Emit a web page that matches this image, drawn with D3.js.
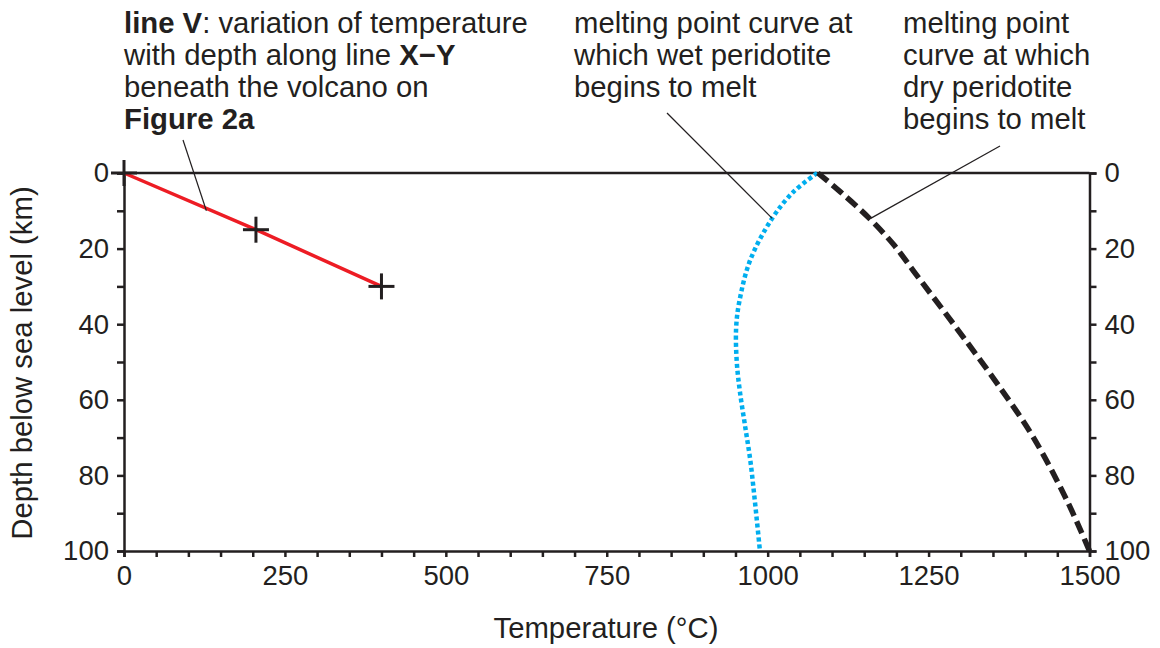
<!DOCTYPE html>
<html><head><meta charset="utf-8">
<script src="https://cdn.jsdelivr.net/npm/d3@7/dist/d3.min.js"></script>
<style>
body{margin:0;background:#fff;}
text{font-family:"Liberation Sans",Arial,Helvetica,sans-serif;fill:#231f20;}
</style></head>
<body><svg id="c" width="1160" height="648"></svg>
<script>
// Line V: temperature vs depth beneath the volcano
const lineVTemp = [0, 205, 400];
const lineVDepth = [0, 15, 30];
// Wet peridotite solidus
const wetTemp  = [1077, 1040, 1007, 973, 956, 951, 952, 957, 965, 973, 979, 988];
const wetDepth = [0, 5, 12, 23, 34, 41, 50, 58, 67, 76, 85, 100];
// Dry peridotite solidus
const dryTemp  = [1078, 1113, 1158, 1196, 1227, 1258, 1289, 1362, 1413, 1466, 1500];
const dryDepth = [0, 5, 12, 19, 26, 33, 40, 57, 70, 87, 100];
// Axis ticks
const xTickLabels = [0, 250, 500, 750, 1000, 1250, 1500];
const yTickLabels = [0, 20, 40, 60, 80, 100];

const svg = d3.select("#c");
const L = 124, R = 1089.5, T = 173, B = 551;
const x = d3.scaleLinear().domain([0, 1500]).range([L, R]);
const y = d3.scaleLinear().domain([0, 100]).range([T, B]);
const ink = "#231f20";
const FS = 29.3, FST = 27.5;

const minorX = d3.range(0, 1501, 50);
const minorY = d3.range(0, 101, 10);

function styleAxis(g){
  g.select(".domain").attr("stroke", ink).attr("stroke-width", 2.5);
  g.selectAll(".tick line").attr("stroke", ink).attr("stroke-width", 2.5);
  g.selectAll(".tick text").attr("font-size", FST).attr("fill", ink)
    .style("font-family", '"Liberation Sans",Arial,sans-serif');
}

const xb = svg.append("g").attr("transform", `translate(0,${B})`)
  .call(d3.axisBottom(x).tickValues(minorX).tickSizeOuter(0).tickSize(6).tickPadding(8)
    .tickFormat(d => xTickLabels.includes(d) ? d : ""));
styleAxis(xb);
xb.selectAll(".tick text").attr("dy", "0.74em");

const yl = svg.append("g").attr("transform", `translate(${L},0)`)
  .call(d3.axisLeft(y).tickValues(minorY).tickSizeOuter(0).tickSize(7).tickPadding(8)
    .tickFormat(d => yTickLabels.includes(d) ? d : ""));
styleAxis(yl);

const yr = svg.append("g").attr("transform", `translate(${R},0)`)
  .call(d3.axisRight(y).tickValues(minorY).tickSizeOuter(0).tickSize(7).tickPadding(8)
    .tickFormat(d => yTickLabels.includes(d) ? d : ""));
styleAxis(yr);

// top line (sea level)
svg.append("line").attr("x1", L).attr("x2", R).attr("y1", y(0)).attr("y2", y(0))
  .attr("stroke", ink).attr("stroke-width", 2.5);

// curves
const lineGen = d3.line().x(d => x(d[0])).y(d => y(d[1])).curve(d3.curveCatmullRom);

svg.append("path").datum(wetTemp.map((t,i)=>[t, wetDepth[i]]))
  .attr("d", lineGen).attr("fill","none").attr("stroke","#00aeef")
  .attr("stroke-width", 4.5).attr("stroke-dasharray","4 3");

svg.append("path").datum(dryTemp.map((t,i)=>[t, dryDepth[i]]))
  .attr("d", lineGen).attr("fill","none").attr("stroke", ink)
  .attr("stroke-width", 5.5).attr("stroke-dasharray","13 6");

// line V
svg.append("path").datum(lineVTemp.map((t,i)=>[t, lineVDepth[i]]))
  .attr("d", d3.line().x(d=>x(d[0])).y(d=>y(d[1])))
  .attr("fill","none").attr("stroke","#ed1c24").attr("stroke-width", 3.5);

// plus markers
const pm = svg.append("g");
lineVTemp.forEach((t,i)=>{
  const cx = x(t), cy = y(lineVDepth[i]), h = 13;
  pm.append("line").attr("x1",cx-h).attr("x2",cx+h).attr("y1",cy).attr("y2",cy)
    .attr("stroke",ink).attr("stroke-width",3);
  pm.append("line").attr("x1",cx).attr("x2",cx).attr("y1",cy-h).attr("y2",cy+h)
    .attr("stroke",ink).attr("stroke-width",3);
});

// leader lines
function leader(x1,y1,t,d){
  svg.append("line").attr("x1",x1).attr("y1",y1).attr("x2",x(t)).attr("y2",y(d))
    .attr("stroke",ink).attr("stroke-width",1.2);
}
leader(183, 140, 128, 10);
leader(667, 113, 1007, 12);
leader(1000, 146, 1160, 12);

// annotation text blocks
function block(x0, lines){
  const t = svg.append("text").attr("font-size", FS);
  lines.forEach((ln, i)=>{
    const row = t.append("tspan").attr("x", x0).attr("y", 33 + i*32);
    ln.forEach(seg=>{
      row.append("tspan").attr("font-weight", seg[1] ? "bold" : "normal").text(seg[0]);
    });
  });
}
block(124, [
  [["line V", true], [": variation of temperature", false]],
  [["with depth along line ", false], ["X\u2212Y", true]],
  [["beneath the volcano on", false]],
  [["Figure 2a", true]]
]);
block(574, [
  [["melting point curve at", false]],
  [["which wet peridotite", false]],
  [["begins to melt", false]]
]);
block(903, [
  [["melting point", false]],
  [["curve at which", false]],
  [["dry peridotite", false]],
  [["begins to melt", false]]
]);

// axis titles
svg.append("text").attr("x", 606).attr("y", 638).attr("text-anchor","middle")
  .attr("font-size", FS).text("Temperature (°C)");
svg.append("text").attr("transform","translate(32,363) rotate(-90)")
  .attr("text-anchor","middle").attr("font-size", FS).text("Depth below sea level (km)");
</script></body></html>
